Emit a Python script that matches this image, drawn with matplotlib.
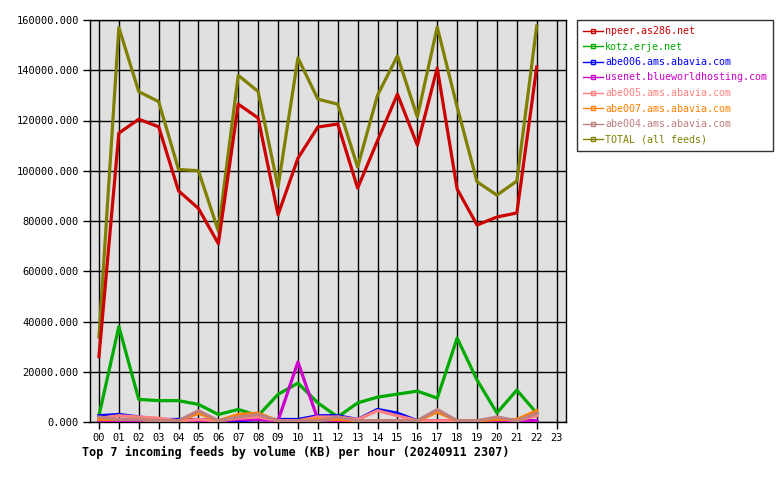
import matplotlib
matplotlib.use("Agg")
import matplotlib.pyplot as plt
from matplotlib.lines import Line2D

hours = ["00","01","02","03","04","05","06","07","08","09","10","11",
         "12","13","14","15","16","17","18","19","20","21","22","23"]

npeer = [26000,115000,120500,117500,92000,85000,71000,126500,121000,82500,105000,117400,
         118600,93100,112000,130500,110200,140900,92700,78400,81600,83200,141300]
kotz = [2500,38000,9000,8500,8500,7000,3000,5000,2500,11000,15500,7600,
        2000,7600,9900,11100,12300,9500,33400,16700,3600,12700,3500]
abe006 = [2500,3000,2000,1000,1000,1000,500,500,1000,1000,1000,2500,
          2500,1000,5000,3500,500,500,500,500,500,500,500]
usenet = [500,500,500,500,500,500,500,1000,1000,500,23900,1000,
          500,500,500,500,500,500,500,500,500,500,500]
abe005 = [1500,2500,2000,1500,500,1000,500,1500,2000,500,500,2000,
          2000,1000,4500,2500,500,500,500,500,1500,500,2500]
abe007 = [1000,1000,1000,500,500,3500,500,3000,3500,500,500,1000,
          1000,500,500,500,500,4000,500,500,1000,1000,4500]
abe004 = [2000,1000,1000,500,500,4500,500,2000,3000,500,500,500,
          2000,500,500,500,500,5000,500,500,2000,500,3500]
total = [33800,157000,131500,127500,100500,100000,76000,138000,131500,93500,144900,128500,
         126500,101500,130100,145700,121400,157200,125400,95600,90300,95900,157600]

names = ["npeer.as286.net","kotz.erje.net","abe006.ams.abavia.com",
         "usenet.blueworldhosting.com","abe005.ams.abavia.com",
         "abe007.ams.abavia.com","abe004.ams.abavia.com","TOTAL (all feeds)"]
series = [npeer,kotz,abe006,usenet,abe005,abe007,abe004,total]
colors = ["#cc0000","#00aa00","#0000ff","#cc00cc","#ff8080","#ff8000","#c08080","#808000"]

plt.rcParams['font.family'] = ['DejaVu Sans Mono']
fig = plt.figure(figsize=(7.8,4.8), dpi=100)
ax = fig.add_axes([90/780, 1-422/480, (566-90)/780, (422-20)/480])
ax.set_facecolor("#e0e0e0")

draw_order = [7,0,1,2,3,4,5,6]
for i in draw_order:
    s = series[i]
    ax.plot(range(len(s)), s, color=colors[i], lw=2.3, zorder=3)

ax.set_xlim(-0.45, 23.47)
ax.set_ylim(0, 160000)
ax.set_xticks(range(24))
ax.set_xticklabels(hours, fontsize=7.5)
yt = list(range(0,160001,20000))
ax.set_yticks(yt)
ax.set_yticklabels(["%.3f" % v for v in yt], fontsize=7.5)
ax.grid(True, color="black", lw=1, zorder=1)
ax.set_axisbelow(True)
ax.tick_params(length=5, width=1, color="black", pad=3)
for sp in ax.spines.values():
    sp.set_color("black"); sp.set_linewidth(1)

fig.text(82/780, 1-452/480, "Top 7 incoming feeds by volume (KB) per hour (20240911 2307)",
         fontsize=8.45, fontweight='bold', ha='left', va='center')

handles = [Line2D([0],[0], color=c, lw=1, marker='s', markersize=3,
                  markerfacecolor='none', markeredgecolor=c) for c in colors]
leg = fig.legend(handles, names, loc='upper left',
                 bbox_to_anchor=(577/780, 1-20/480), fontsize=7.2,
                 frameon=True, fancybox=False, edgecolor='black',
                 handlelength=2.0, handletextpad=0.2, borderpad=0.6,
                 labelspacing=0.55, labelcolor=colors, borderaxespad=0)
leg.get_frame().set_linewidth(1)

fig.savefig("out.png", dpi=100)
